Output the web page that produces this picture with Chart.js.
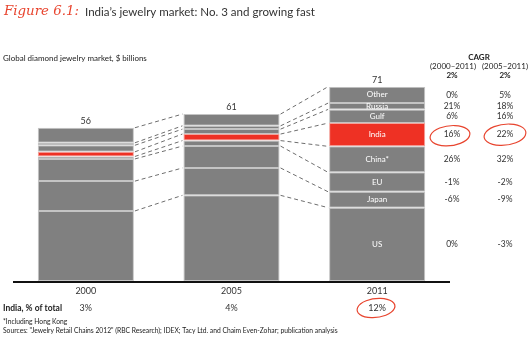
<!DOCTYPE html>
<html>
<head>
<meta charset="utf-8">
<script src="https://cdn.jsdelivr.net/npm/chart.js@4/dist/chart.umd.min.js"></script>
<style>
  body { margin: 0; background: #fff; }
  #wrap { width: 530px; height: 341px; }
</style>
</head>
<body>
<div id="wrap"><canvas id="jewelryChart" width="530" height="341"></canvas></div>
<script>
// years on the x axis
const years = ['2000', '2005', '2011'];

// stack order, bottom to top
const regions = ['US', 'Japan', 'EU', 'China*', 'India', 'Gulf', 'Russia', 'Other'];

// $ billions per region, one value per year
const usValues     = [25.6, 31.3, 26.8];
const japanValues  = [10.9, 10.0, 5.8];
const euValues     = [8.1, 8.0, 7.1];
const chinaValues  = [0.9, 2.0, 9.5];
const indiaValues  = [1.7, 2.4, 8.5];
const gulfValues   = [2.4, 1.8, 5.0];
const russiaValues = [0.9, 1.2, 2.3];
const otherValues  = [5.5, 4.3, 6.0];

// CAGR columns, same order as regions
const cagr2000to2011 = ['0%', '-6%', '-1%', '26%', '16%', '6%', '21%', '0%'];
const cagr2005to2011 = ['-3%', '-9%', '-2%', '32%', '22%', '16%', '18%', '5%'];
const cagrTotals = ['2%', '2%'];

// India share of total
const indiaShare = ['3%', '4%', '12%'];

const seriesValues = [usValues, japanValues, euValues, chinaValues, indiaValues, gulfValues, russiaValues, otherValues];

const FONT = 'Lato, "Open Sans", sans-serif';
const GRAY = '#808080';
const RED = '#ee3124';

// set a font so the text is about `target` px wide
function fitFont(ctx, text, style, family, target) {
  ctx.font = style + ' 10px ' + family;
  const w = ctx.measureText(text).width;
  ctx.font = style + ' ' + (10 * target / w).toFixed(2) + 'px ' + family;
}

const overlay = {
  id: 'overlay',
  afterDraw(chart) {
    const ctx = chart.ctx;
    const metas = regions.map((r, i) => chart.getDatasetMeta(i));
    ctx.save();

    // dashed connectors between bars
    ctx.strokeStyle = '#6e6e6e';
    ctx.lineWidth = 1;
    ctx.setLineDash([4, 3]);
    for (let b = 0; b < years.length - 1; b++) {
      metas.forEach((meta) => {
        const a = meta.data[b];
        const n = meta.data[b + 1];
        ctx.beginPath();
        ctx.moveTo(a.x + a.width / 2 + 1, a.y);
        ctx.lineTo(n.x - n.width / 2 - 1, n.y);
        ctx.stroke();
      });
    }
    ctx.setLineDash([]);

    // axis line
    const xs = chart.scales.x;
    const ys = chart.scales.y;
    ctx.strokeStyle = '#111';
    ctx.lineWidth = 2;
    ctx.beginPath();
    ctx.moveTo(xs.left, ys.bottom + 1);
    ctx.lineTo(xs.right, ys.bottom + 1);
    ctx.stroke();

    ctx.textBaseline = 'middle';
    ctx.textAlign = 'center';

    // totals above bars and year labels
    years.forEach((y, i) => {
      const total = seriesValues.reduce((s, arr) => s + arr[i], 0);
      const top = metas[metas.length - 1].data[i];
      ctx.fillStyle = '#333';
      ctx.font = '9px ' + FONT;
      ctx.fillText(Math.round(total), top.x, top.y - 7);
      ctx.fillText(y, xs.getPixelForValue(i), ys.bottom + 10);
      ctx.fillText(indiaShare[i], xs.getPixelForValue(i), ys.bottom + 27);
    });

    // segment labels inside last bar + CAGR columns
    const last = years.length - 1;
    metas.forEach((meta, r) => {
      const el = meta.data[last];
      const cy = (el.y + el.base) / 2;
      ctx.fillStyle = '#fff';
      ctx.font = '8px ' + FONT;
      ctx.fillText(regions[r], el.x, cy);
      ctx.fillStyle = '#333';
      ctx.font = '8.5px ' + FONT;
      ctx.fillText(cagr2000to2011[r], 452, cy);
      ctx.fillText(cagr2005to2011[r], 505, cy);
    });

    // CAGR header
    ctx.fillStyle = '#222';
    ctx.font = 'bold 8px ' + FONT;
    ctx.fillText('CAGR', 479, 57);
    ctx.font = '8px ' + FONT;
    ctx.fillText('(2000–2011)', 453, 66.5);
    ctx.fillText('(2005–2011)', 505, 66.5);
    ctx.font = 'bold 8px ' + FONT;
    ctx.fillText(cagrTotals[0], 452, 75.5);
    ctx.fillText(cagrTotals[1], 505, 75.5);

    // left texts
    ctx.textAlign = 'left';
    ctx.fillStyle = '#222';
    ctx.font = 'bold 8.5px ' + FONT;
    ctx.fillText('India, % of total', 3, ys.bottom + 27);
    fitFont(ctx, 'Global diamond jewelry market, $ billions', '', FONT, 144);
    ctx.fillText('Global diamond jewelry market, $ billions', 3, 58);
    const src = 'Sources: "Jewelry Retail Chains 2012" (RBC Research); IDEX; Tacy Ltd. and Chaim Even-Zohar; publication analysis';
    fitFont(ctx, src, '', FONT, 335);
    ctx.fillText('*Including Hong Kong', 3, 322);
    ctx.fillText(src, 3, 331);

    // title
    ctx.fillStyle = '#e8452f';
    fitFont(ctx, 'Figure 6.1:', 'italic', '"DejaVu Serif", serif', 75);
    ctx.fillText('Figure 6.1:', 4, 12);
    ctx.fillStyle = '#333';
    const ttl = 'India\u2019s jewelry market: No. 3 and growing fast';
    fitFont(ctx, ttl, '', FONT, 230);
    ctx.fillText(ttl, 85, 12);

    // hand-drawn circles
    const indiaEl = metas[4].data[last];
    const icy = (indiaEl.y + indiaEl.base) / 2;
    ctx.strokeStyle = '#e8452f';
    ctx.lineWidth = 1.2;
    const loop = (cx, cy, rx, ry) => {
      ctx.beginPath();
      ctx.ellipse(cx, cy, rx, ry, -0.12, 0.3, Math.PI * 2 + 0.5);
      ctx.stroke();
    };
    loop(450, icy + 1, 20, 10);
    loop(505, icy, 21, 10.5);
    loop(376, ys.bottom + 27, 19, 9.5);

    ctx.restore();
  }
};

const datasets = regions.map((r, i) => ({
  label: r,
  data: seriesValues[i],
  backgroundColor: r === 'India' ? RED : GRAY,
  borderColor: r === 'India' ? '#f3a39b' : '#c4c4c4',
  borderWidth: 1,
  borderSkipped: false,
  categoryPercentage: 1,
  barPercentage: 0.66,
}));

new Chart(document.getElementById('jewelryChart').getContext('2d'), {
  type: 'bar',
  data: { labels: years, datasets: datasets },
  options: {
    responsive: false,
    animation: false,
    layout: { padding: { left: 13, right: 80, top: 86.7, bottom: 60 } },
    plugins: { legend: { display: false }, tooltip: { enabled: false } },
    scales: {
      x: { stacked: true, display: false },
      y: { stacked: true, display: false, min: 0, max: 71 },
    },
  },
  plugins: [overlay],
});
</script>
</body>
</html>
